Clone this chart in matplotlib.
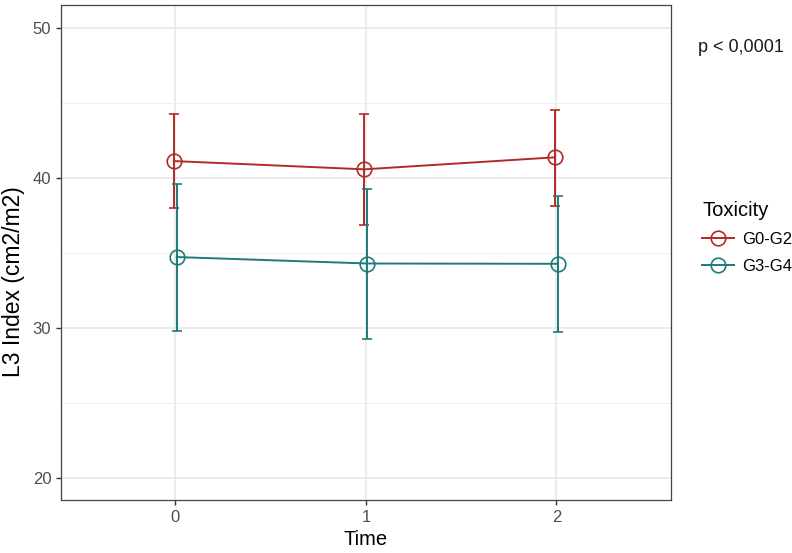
import matplotlib
matplotlib.use('Agg')
import matplotlib.pyplot as plt
from matplotlib.lines import Line2D
import numpy as np

plt.rcParams['font.family'] = ['Liberation Sans', 'DejaVu Sans']

# Data
time_points = [0, 1, 2]
groups = ['G0-G2', 'G3-G4']
g02_mean = [41.1, 40.55, 41.35]
g02_upper = [44.27, 44.23, 44.53]
g02_lower = [37.96, 36.83, 38.12]
g34_mean = [34.7, 34.27, 34.25]
g34_upper = [39.56, 39.22, 38.78]
g34_lower = [29.8, 29.25, 29.7]

colors = ['#B22A26', '#1E7B7B']
dodge = [-0.008, 0.008]

fig = plt.figure(figsize=(7.92, 5.53), dpi=100)
ax = fig.add_axes([0.077, 0.0958, 0.77, 0.895])

series = [(g02_mean, g02_upper, g02_lower), (g34_mean, g34_upper, g34_lower)]
for (m, up, lo), col, dx in zip(series, colors, dodge):
    x = np.array(time_points) + dx
    m = np.array(m)
    yerr = [m - np.array(lo), np.array(up) - m]
    ax.errorbar(x, m, yerr=yerr, color=col, lw=1.4, capsize=3.5, capthick=1.4,
                marker='o', ms=10.5, mfc='none', mec=col, mew=1.2, zorder=3)

# ggplot theme_bw look
ax.set_xlim(-0.6, 2.6)
ax.set_ylim(18.5, 51.5)
ax.set_xticks(time_points)
ax.set_xticklabels(['0', '1', '2'])
ax.set_yticks([20, 30, 40, 50])
ax.set_yticks([25, 35, 45], minor=True)
ax.grid(True, which='major', color='#E6E6E6', lw=1.1, zorder=0)
ax.grid(True, which='minor', axis='y', color='#EEEEEE', lw=0.7, zorder=0)
ax.set_axisbelow(True)
for s in ax.spines.values():
    s.set_color('#444444')
    s.set_linewidth(0.9)
ax.tick_params(which='major', length=3.5, width=1, color='#333333', labelcolor='#4D4D4D',
               labelsize=12, pad=3.5)
ax.tick_params(which='minor', length=0)

ax.set_xlabel('Time', fontsize=14.5, labelpad=4)
ax.set_ylabel('L3 Index (cm2/m2)', fontsize=16.5)
ax.yaxis.set_label_coords(-0.059, 0.442)

handles = [Line2D([0], [0], color=c, lw=1.4, marker='o', ms=10.5, mfc='none', mec=c, mew=1.2)
           for c in colors]
leg = ax.legend(handles, groups, title='Toxicity', loc='upper left',
                bbox_to_anchor=(0.868, 0.664), bbox_transform=fig.transFigure,
                frameon=False, fontsize=12, title_fontsize=14.5, alignment='left',
                handlelength=1.9, handletextpad=0.5, labelspacing=0.72)

fig.text(0.881, 0.915, 'p < 0,0001', fontsize=13, color='#1A1A1A', va='center')

fig.savefig('out.png', dpi=100)
